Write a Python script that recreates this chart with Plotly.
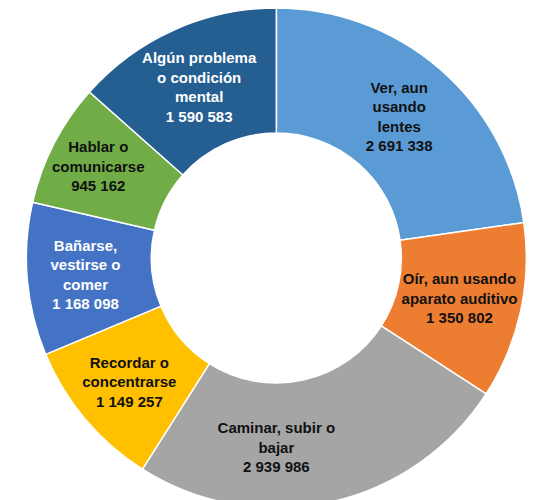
import plotly.graph_objects as go

labels = [
    "Ver, aun<br>usando<br>lentes",
    "Oír, aun usando<br>aparato auditivo",
    "Caminar, subir o<br>bajar",
    "Recordar o<br>concentrarse",
    "Bañarse,<br>vestirse o<br>comer",
    "Hablar o<br>comunicarse",
    "Algún problema<br>o condición<br>mental",
]
values = [2691338, 1350802, 2939986, 1149257, 1168098, 945162, 1590583]
colors = ["#5B9BD5", "#ED7D31", "#A5A5A5", "#FFC000", "#4472C4", "#70AD47", "#255E91"]
text_colors = ["#111111", "#111111", "#111111", "#111111", "#FFFFFF", "#111111", "#FFFFFF"]

fig = go.Figure(go.Pie(
    labels=labels,
    values=values,
    hole=0.5,
    sort=False,
    direction="clockwise",
    rotation=0,
    marker=dict(colors=colors, line=dict(color="white", width=1.5)),
    texttemplate="<b>%{label}<br>%{value:,}</b>",
    textposition="inside",
    insidetextorientation="horizontal",
    textfont=dict(family="Liberation Sans, Arial, sans-serif", size=15, color=text_colors),
    domain=dict(x=[0.005, 1.0], y=[0.0, 1.0]),
    showlegend=False,
))
fig.update_layout(
    width=534, height=500,
    margin=dict(l=0, r=0, t=0, b=0),
    paper_bgcolor="white",
    separators=". ",
    uniformtext=dict(minsize=15, mode="show"),
)
fig.write_html("out.html")
